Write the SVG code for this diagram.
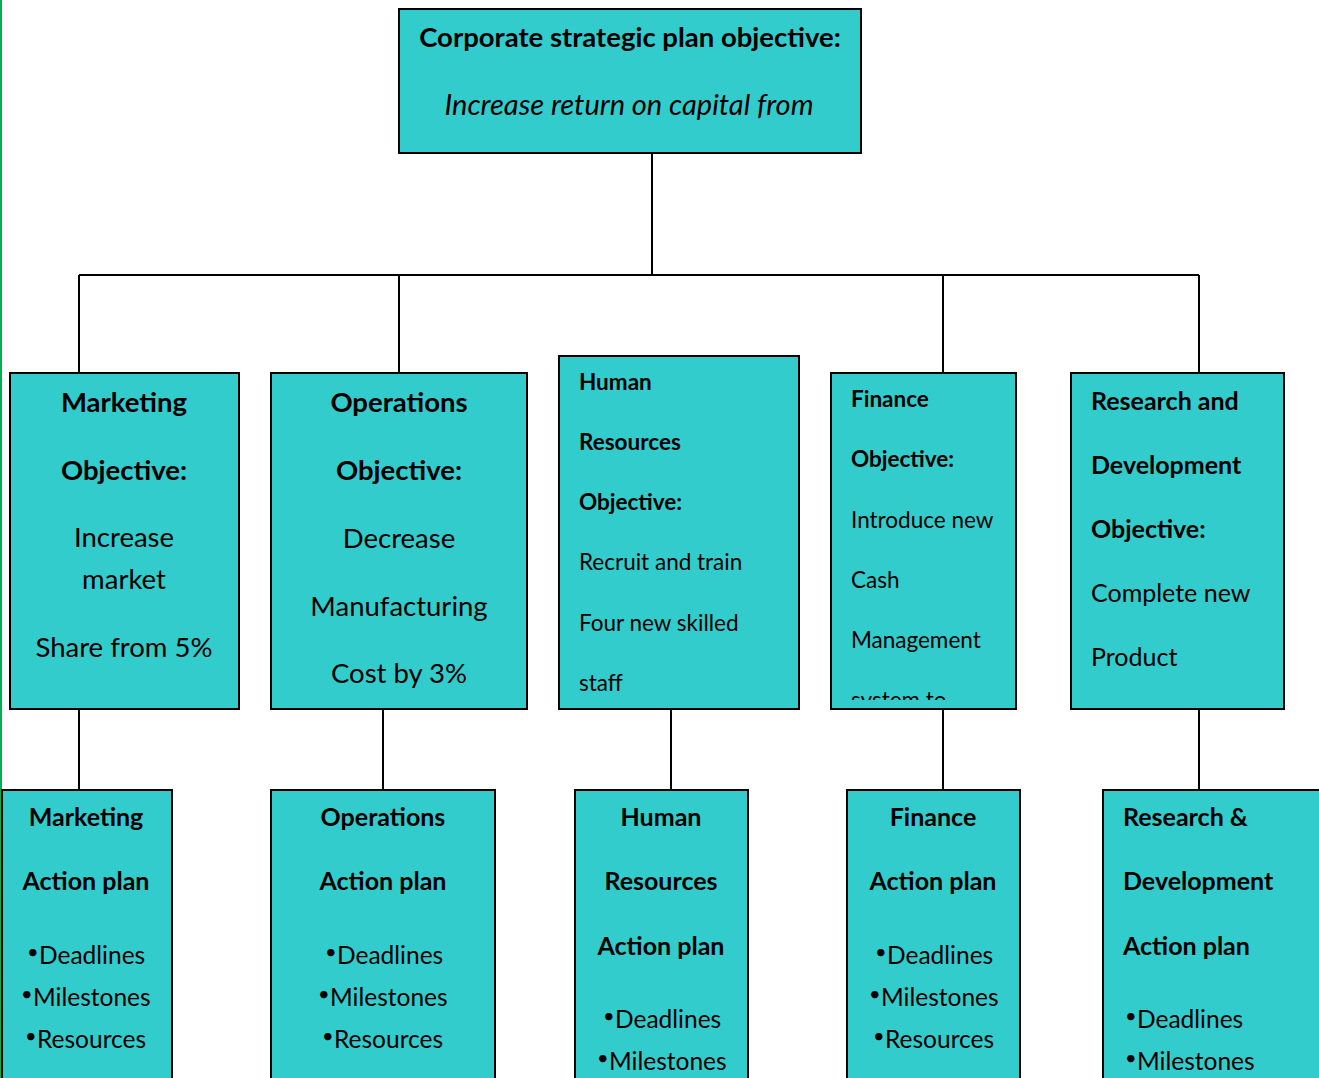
<svg xmlns="http://www.w3.org/2000/svg" width="1319" height="1078" viewBox="0 0 1319 1078">
  <style>
    .box { fill: #33CCCC; stroke: #000; stroke-width: 2; }
    .link { fill: none; stroke: #000; stroke-width: 2; }
    text { font-family: Lato, "Liberation Sans", sans-serif; fill: #000; }
    .c { text-anchor: middle; }
    .b { font-weight: bold; }
    .it { font-style: italic; font-size: 29px; }
    .big { font-size: 27.5px; }
    .mid { font-size: 25px; }
    .sm { font-size: 22.5px; }
    .li { font-size: 24.5px; }
    .dot { font-size: 20px; }
  </style>
  <defs>
    <clipPath id="finClip"><rect x="832" y="374" width="183" height="326"/></clipPath>
  </defs>
  <rect x="0" y="0" width="1319" height="1078" fill="#fff"/>
  <line x1="1" y1="0" x2="1" y2="1078" stroke="#00B050" stroke-width="2"/>

  <!-- connectors -->
  <g id="connectors">
    <path class="link" d="M652 153 V275 M79 275 H1199 M79 275 V373 M399 275 V373 M943 275 V373 M1199 275 V373"/>
    <path class="link" d="M79 703 V790 M383 709 V790 M671 709 V790 M943 709 V790 M1199 709 V790"/>
  </g>

  <!-- corporate objective -->
  <g id="corporate">
    <rect class="box" x="399" y="9" width="462" height="144"/>
    <text class="c b big" x="630" y="47">Corporate strategic plan objective:</text>
    <text class="c it" x="629" y="115">Increase return on capital from</text>
  </g>

  <!-- functional objectives -->
  <g id="marketing-objective">
    <rect class="box" x="10" y="373" width="229" height="336"/>
    <text class="c b big" x="124" y="412">Marketing</text>
    <text class="c b big" x="124" y="480">Objective:</text>
    <text class="c big" x="124" y="547">Increase</text>
    <text class="c big" x="124" y="589">market</text>
    <text class="c big" x="124" y="657">Share from 5%</text>
  </g>
  <g id="operations-objective">
    <rect class="box" x="271" y="373" width="256" height="336"/>
    <text class="c b big" x="399" y="412">Operations</text>
    <text class="c b big" x="399" y="480">Objective:</text>
    <text class="c big" x="399" y="548">Decrease</text>
    <text class="c big" x="399" y="616">Manufacturing</text>
    <text class="c big" x="399" y="683">Cost by 3%</text>
  </g>
  <g id="hr-objective">
    <rect class="box" x="559" y="356" width="240" height="353"/>
    <text class="b sm" x="579" y="390">Human</text>
    <text class="b sm" x="579" y="450">Resources</text>
    <text class="b sm" x="579" y="510">Objective:</text>
    <text class="sm" x="579" y="570">Recruit and train</text>
    <text class="sm" x="579" y="631">Four new skilled</text>
    <text class="sm" x="579" y="691">staff</text>
  </g>
  <g id="finance-objective">
    <rect class="box" x="831" y="373" width="185" height="336"/>
    <g clip-path="url(#finClip)">
      <text class="b sm" x="851" y="407">Finance</text>
      <text class="b sm" x="851" y="467">Objective:</text>
      <text class="sm" x="851" y="528">Introduce new</text>
      <text class="sm" x="851" y="588">Cash</text>
      <text class="sm" x="851" y="648">Management</text>
      <text class="sm" x="851" y="708">system to</text>
    </g>
  </g>
  <g id="rd-objective">
    <rect class="box" x="1071" y="373" width="213" height="336"/>
    <text class="b mid" x="1091" y="410">Research and</text>
    <text class="b mid" x="1091" y="474">Development</text>
    <text class="b mid" x="1091" y="538">Objective:</text>
    <text class="mid" x="1091" y="602">Complete new</text>
    <text class="mid" x="1091" y="666">Product</text>
  </g>

  <!-- action plans -->
  <g id="marketing-plan">
    <rect class="box" x="2" y="790" width="170" height="300"/>
    <text class="c b mid" x="86" y="826">Marketing</text>
    <text class="c b mid" x="86" y="890">Action plan</text>
    <text class="dot" x="27" y="959">•</text><text class="li" x="39" y="964">Deadlines</text>
    <text class="dot" x="21" y="1001">•</text><text class="li" x="33" y="1006">Milestones</text>
    <text class="dot" x="25" y="1043">•</text><text class="li" x="37" y="1048">Resources</text>
  </g>
  <g id="operations-plan">
    <rect class="box" x="271" y="790" width="224" height="300"/>
    <text class="c b mid" x="383" y="826">Operations</text>
    <text class="c b mid" x="383" y="890">Action plan</text>
    <text class="dot" x="325" y="959">•</text><text class="li" x="337" y="964">Deadlines</text>
    <text class="dot" x="318" y="1001">•</text><text class="li" x="330" y="1006">Milestones</text>
    <text class="dot" x="322" y="1043">•</text><text class="li" x="334" y="1048">Resources</text>
  </g>
  <g id="hr-plan">
    <rect class="box" x="575" y="790" width="173" height="300"/>
    <text class="c b mid" x="661" y="826">Human</text>
    <text class="c b mid" x="661" y="890">Resources</text>
    <text class="c b mid" x="661" y="955">Action plan</text>
    <text class="dot" x="603" y="1023">•</text><text class="li" x="615" y="1028">Deadlines</text>
    <text class="dot" x="597" y="1065">•</text><text class="li" x="609" y="1070">Milestones</text>
  </g>
  <g id="finance-plan">
    <rect class="box" x="847" y="790" width="173" height="300"/>
    <text class="c b mid" x="933" y="826">Finance</text>
    <text class="c b mid" x="933" y="890">Action plan</text>
    <text class="dot" x="875" y="959">•</text><text class="li" x="887" y="964">Deadlines</text>
    <text class="dot" x="869" y="1001">•</text><text class="li" x="881" y="1006">Milestones</text>
    <text class="dot" x="873" y="1043">•</text><text class="li" x="885" y="1048">Resources</text>
  </g>
  <g id="rd-plan">
    <rect class="box" x="1103" y="790" width="230" height="300"/>
    <text class="b mid" x="1123" y="826">Research &amp;</text>
    <text class="b mid" x="1123" y="890">Development</text>
    <text class="b mid" x="1123" y="955">Action plan</text>
    <text class="dot" x="1125" y="1023">•</text><text class="li" x="1137" y="1028">Deadlines</text>
    <text class="dot" x="1125" y="1065">•</text><text class="li" x="1137" y="1070">Milestones</text>
  </g>
</svg>
